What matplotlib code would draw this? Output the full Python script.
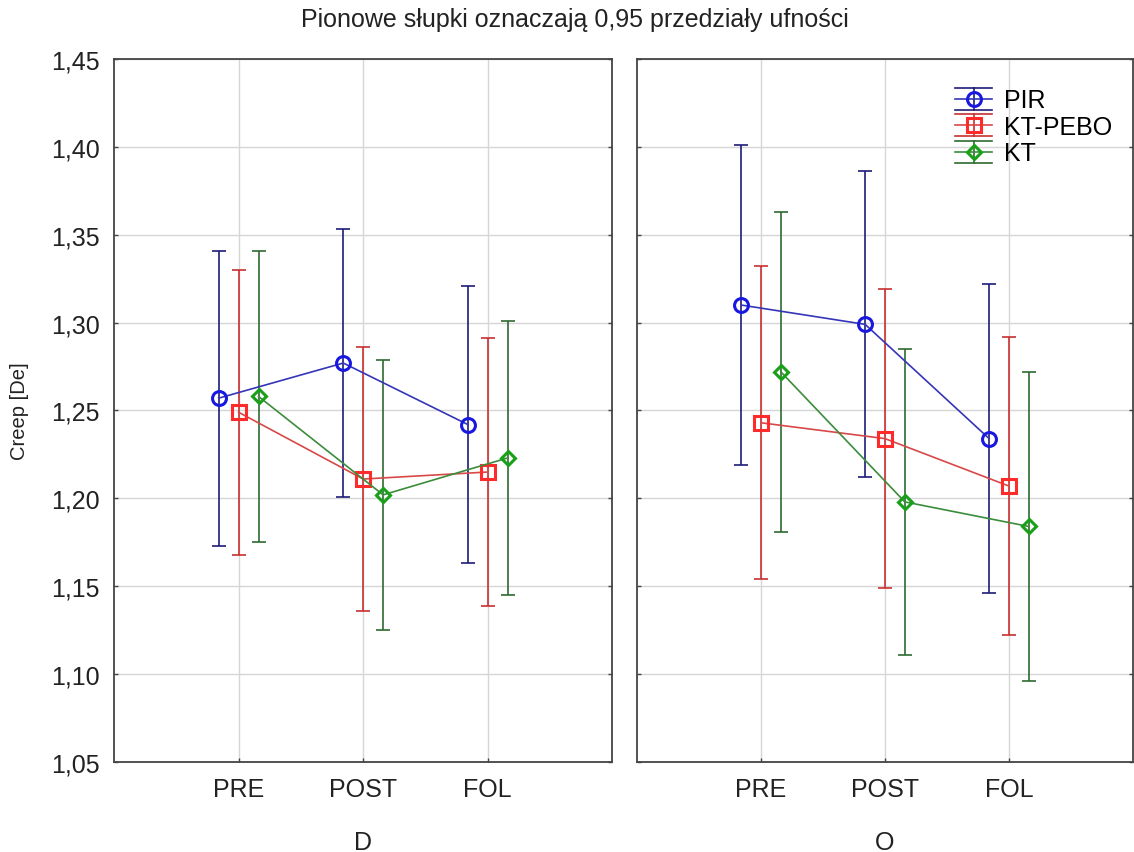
import numpy as np
import matplotlib
matplotlib.use("Agg")
import matplotlib.pyplot as plt
from matplotlib.lines import Line2D
from matplotlib.legend_handler import HandlerBase
from matplotlib.ticker import FuncFormatter, MultipleLocator

plt.rcParams["font.family"] = ["Liberation Sans", "DejaVu Sans"]

phases = ["PRE", "POST", "FOL"]
panels = ["D", "O"]
groups = ["PIR", "KT-PEBO", "KT"]

# means per group, one row per panel (D, O)
pir_mean = [[1.257, 1.277, 1.242], [1.310, 1.299, 1.234]]
pebo_mean = [[1.249, 1.211, 1.215], [1.243, 1.234, 1.207]]
kt_mean = [[1.258, 1.202, 1.223], [1.272, 1.198, 1.184]]

# half-widths of the 0.95 confidence intervals
pir_ci = [[0.084, 0.076, 0.079], [0.091, 0.087, 0.088]]
pebo_ci = [[0.081, 0.075, 0.076], [0.089, 0.085, 0.085]]
kt_ci = [[0.083, 0.077, 0.078], [0.091, 0.087, 0.088]]

means = [pir_mean, pebo_mean, kt_mean]
cis = [pir_ci, pebo_ci, kt_ci]

line_cols = ["#3535b8", "#d84848", "#3c8c3c"]
err_cols = ["#1c1c78", "#c83030", "#2f6a2f"]
mark_cols = ["#1818e0", "#ff2a2a", "#18a018"]
markers = ["o", "s", "D"]
msizes = [10, 9.5, 7.5]
offsets = [-0.16, 0.0, 0.16]


class LegendKey:
    def __init__(self, g):
        self.g = g


class ErrKeyHandler(HandlerBase):
    # legend key: wide caps above and below, line with marker in the middle
    def create_artists(self, legend, orig_handle, xdescent, ydescent,
                       width, height, fontsize, trans):
        g = orig_handle.g
        x0, x1 = -xdescent, -xdescent + width
        cx = (x0 + x1) / 2
        cy = -ydescent + height / 2
        e = 0.44 * fontsize
        arts = [
            Line2D([x0, x1], [cy + e, cy + e], color=err_cols[g], lw=1.2),
            Line2D([x0, x1], [cy - e, cy - e], color=err_cols[g], lw=1.2),
            Line2D([cx, cx], [cy - e, cy + e], color=err_cols[g], lw=1.2),
            Line2D([x0, x1], [cy, cy], color=line_cols[g], lw=1.2),
            Line2D([cx], [cy], marker=markers[g], ms=msizes[g], mfc="none",
                   mec=mark_cols[g], mew=2.2, ls="none"),
        ]
        for a in arts:
            a.set_transform(trans)
        return arts


fig = plt.figure(figsize=(11.34, 8.53), dpi=100)
ax1 = fig.add_axes([0.1005, 0.1055, 0.4395, 0.8242])
ax2 = fig.add_axes([0.5617, 0.1055, 0.4374, 0.8242], sharey=ax1)
axes = [ax1, ax2]

x = np.arange(1, 4)
for p, ax in enumerate(axes):
    for g in range(3):
        ax.errorbar(x + offsets[g], means[g][p], yerr=cis[g][p],
                    fmt="none", ecolor=err_cols[g], elinewidth=1.2,
                    capsize=4.7, capthick=1.2, zorder=3)
        ax.plot(x + offsets[g], means[g][p], color=line_cols[g], lw=1.2,
                marker=markers[g], ms=msizes[g], mfc="none",
                mec=mark_cols[g], mew=2.2, zorder=4)
    ax.set_xlim(0, 4)
    ax.set_ylim(1.05, 1.45)
    ax.yaxis.set_major_locator(MultipleLocator(0.05))
    ax.set_xticks(x)
    ax.set_xticklabels(phases)
    ax.grid(True, color="#d6d6d6", lw=1)
    ax.set_axisbelow(True)
    ax.tick_params(direction="in", length=3, width=1, colors="#444444",
                   labelcolor="#222222", labelsize=18, right=True)
    ax.tick_params(axis="x", pad=10.5)
    ax.tick_params(axis="y", pad=10)
    for s in ax.spines.values():
        s.set_color("#444444")
        s.set_linewidth(1.3)
    ax.set_xlabel(panels[p], fontsize=18, labelpad=21, color="#222222")

ax1.yaxis.set_major_formatter(FuncFormatter(lambda v, _: f"{v:.2f}".replace(".", ",")))
ax2.tick_params(axis="y", labelleft=False)
fig.text(0.0176, 0.518, "Creep [De]", rotation=90, ha="center", va="center",
         fontsize=14.5, color="#222222")

keys = [LegendKey(g) for g in range(3)]
ax2.legend(keys, groups, handler_map={LegendKey: ErrKeyHandler()},
           loc="upper left", bbox_to_anchor=(0.641, 0.958),
           frameon=False, fontsize=18, handlelength=1.5, handletextpad=0.45,
           labelspacing=0.1, borderpad=0, borderaxespad=0)

fig.text(0.5066, 0.9766, "Pionowe słupki oznaczają 0,95 przedziały ufności",
         ha="center", va="center", fontsize=18, color="#222222")

fig.savefig("out.png", dpi=100)
